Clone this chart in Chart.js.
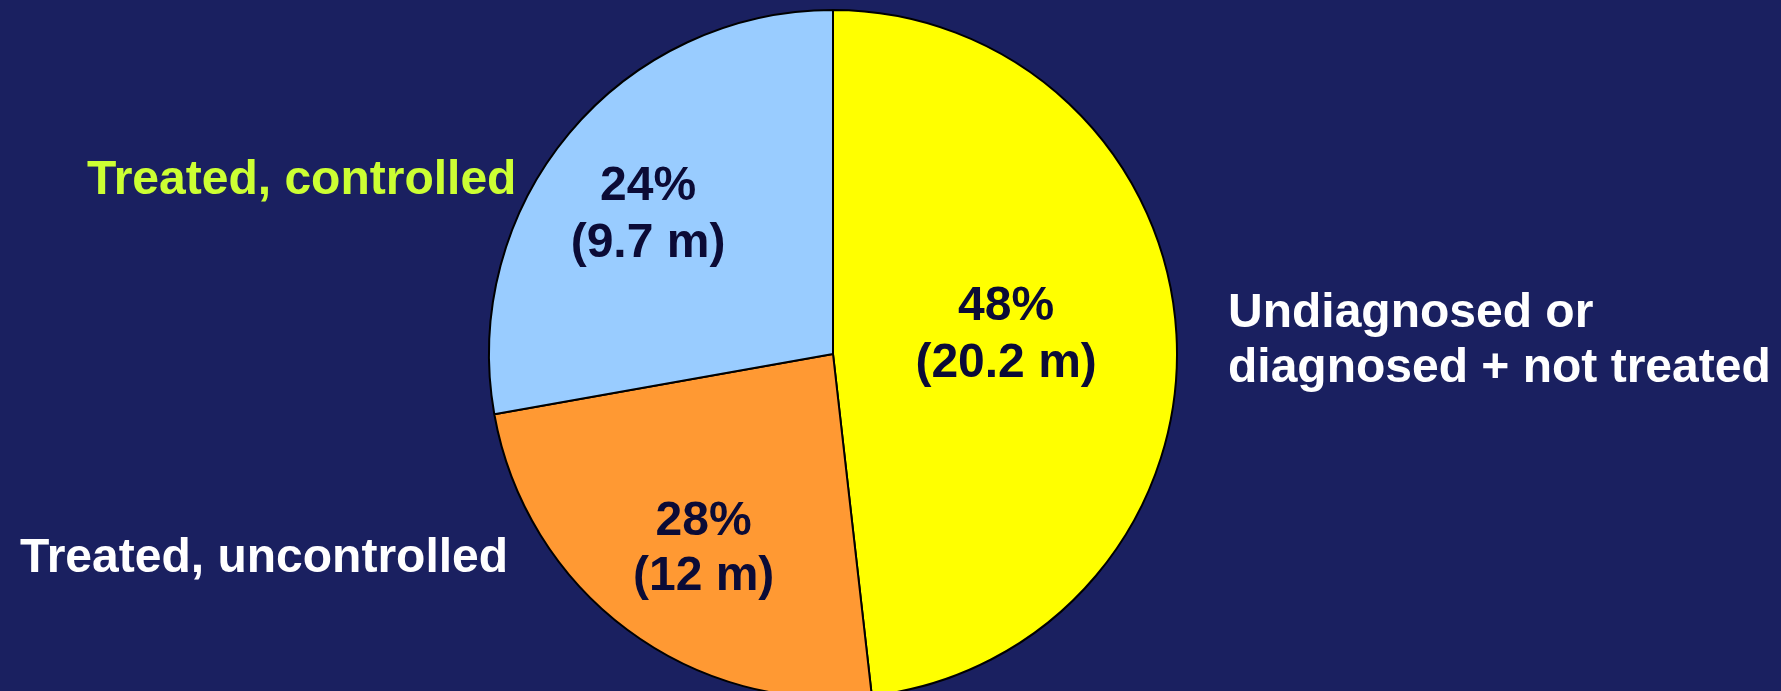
<!DOCTYPE html>
<html>
<head>
<meta charset="utf-8">
<script src="https://cdn.jsdelivr.net/npm/chart.js@4/dist/chart.umd.min.js"></script>
<style>
  html, body { margin: 0; padding: 0; background: #1a2060; overflow: hidden; }
  #wrap { width: 1781px; height: 691px; }
</style>
</head>
<body>
<div id="wrap"><canvas id="pieChart" width="1781" height="691"></canvas></div>
<script>
// data
const categories = [
    ['Undiagnosed or', 'diagnosed + not treated'],
    ['Treated, uncontrolled'],
    ['Treated, controlled']
];
// slice sizes as drawn in the picture (measured from the slice angles)
const sliceShares = [48.2, 24.0, 27.8];
// values printed in the slices
const percentLabels = ['48%', '28%', '24%'];
const millionLabels = ['(20.2 m)', '(12 m)', '(9.7 m)'];
const sliceColors = ['#ffff00', '#ff9933', '#99ccff'];
const categoryColors = ['#ffffff', '#ffffff', '#ccff33'];

const FONT = '"Liberation Sans", Arial, Helvetica, sans-serif';

// where the value text sits inside each slice (fraction of radius, turn in degrees from mid-angle)
const valueSpots = [
    { frac: 0.506, turn: -2.8, lineHeight: 57 },
    { frac: 0.681, turn: -3.2, lineHeight: 55 },
    { frac: 0.672, turn: -3.1, lineHeight: 57 }
];
// category text, left aligned, first baseline
const categorySpots = [
    { x: 1228, y: 327, lineHeight: 55 },
    { x: 20, y: 572, lineHeight: 55 },
    { x: 87, y: 194, lineHeight: 55 }
];

const sliceLabels = {
    id: 'sliceLabels',
    afterDatasetsDraw(chart) {
        const ctx = chart.ctx;
        const meta = chart.getDatasetMeta(0);
        ctx.save();

        meta.data.forEach((arc, i) => {
            const spot = valueSpots[i];
            const mid = (arc.startAngle + arc.endAngle) / 2 + spot.turn * Math.PI / 180;
            const r = arc.outerRadius * spot.frac;
            const cx = arc.x + Math.cos(mid) * r;
            const cy = arc.y + Math.sin(mid) * r;
            ctx.font = 'bold 48px ' + FONT;
            ctx.fillStyle = '#0b0b36';
            ctx.textAlign = 'center';
            ctx.textBaseline = 'middle';
            ctx.fillText(percentLabels[i], cx, cy - spot.lineHeight / 2);
            ctx.fillText(millionLabels[i], cx, cy + spot.lineHeight / 2);
        });

        categories.forEach((lines, i) => {
            const spot = categorySpots[i];
            ctx.font = 'bold 48px ' + FONT;
            ctx.fillStyle = categoryColors[i];
            ctx.textAlign = 'left';
            ctx.textBaseline = 'alphabetic';
            lines.forEach((line, j) => {
                ctx.fillText(line, spot.x, spot.y + j * spot.lineHeight);
            });
        });

        ctx.restore();
    }
};

const ctx = document.getElementById('pieChart').getContext('2d');
const chart = new Chart(ctx, {
    type: 'pie',
    data: {
        labels: categories.map(c => c.join(' ')),
        datasets: [{
            data: sliceShares,
            backgroundColor: sliceColors,
            borderColor: '#000000',
            borderWidth: 2,
            hoverOffset: 0,
            radius: 344,
            clip: false
        }]
    },
    options: {
        responsive: false,
        animation: false,
        rotation: 0,
        layout: { padding: { left: 0, right: 115, top: 17, bottom: 0 } },
        plugins: {
            legend: { display: false },
            tooltip: { enabled: false }
        }
    },
    plugins: [sliceLabels]
});
</script>
</body>
</html>
